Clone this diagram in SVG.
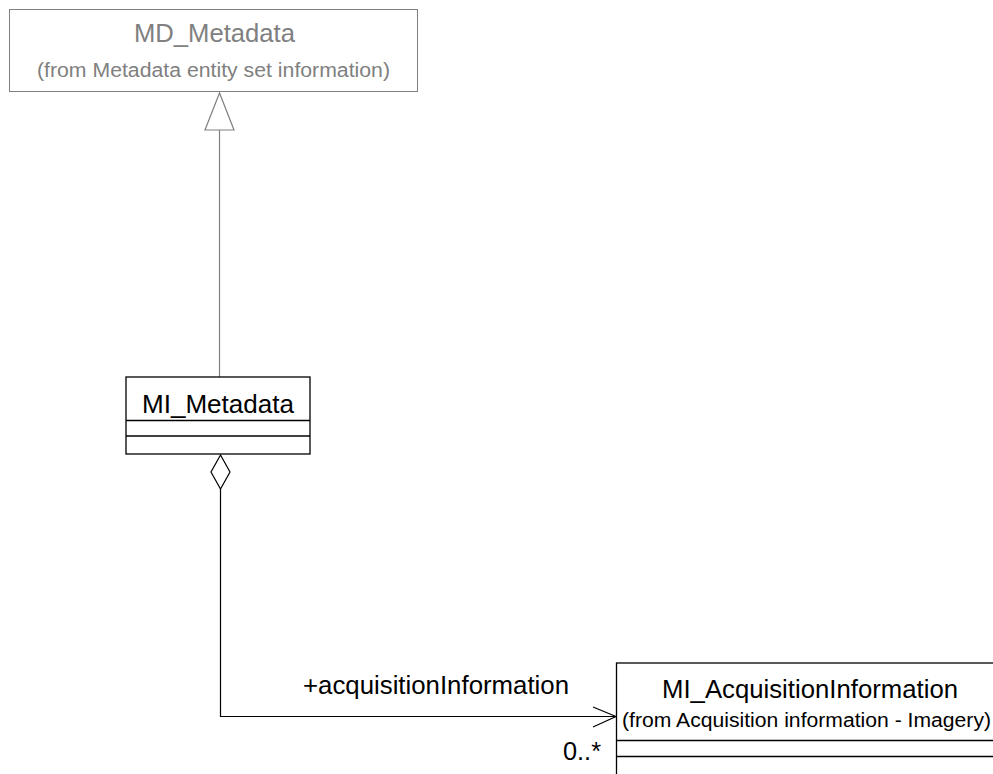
<svg xmlns="http://www.w3.org/2000/svg" width="993" height="774" viewBox="0 0 993 774">
  <style>
    .box { fill: #ffffff; stroke: #000000; stroke-width: 1.3; }
    .box-ext { fill: #ffffff; stroke: #808080; stroke-width: 1; }
    .sep { stroke: #000000; stroke-width: 1.3; }
    .title { font-family: "Liberation Sans", Arial, sans-serif; font-size: 26px; fill: #000000; text-anchor: middle; }
    .title-ext { font-family: "Liberation Sans", Arial, sans-serif; font-size: 25px; fill: #808080; text-anchor: middle; }
    .sub { font-family: "Liberation Sans", Arial, sans-serif; font-size: 19.5px; fill: #000000; }
    .sub-ext { font-family: "Liberation Sans", Arial, sans-serif; font-size: 19.5px; fill: #808080; }
    .label { font-family: "Liberation Sans", Arial, sans-serif; font-size: 26px; fill: #000000; }
    .link { fill: none; stroke: #000000; stroke-width: 1.2; }
    .link-ext { fill: none; stroke: #808080; stroke-width: 1.2; }
  </style>

  <rect width="993" height="774" fill="#ffffff"/>

  <!-- connectors -->
  <g id="connectors">
    <!-- generalization MI_Metadata -> MD_Metadata -->
    <line class="link-ext" x1="219.5" y1="130" x2="219.5" y2="377"/>
    <polygon class="link-ext" points="219.5,93 205,130 234,130"/>
    <!-- aggregation MI_Metadata -> MI_AcquisitionInformation -->
    <polygon class="link" points="220.5,455 211,472 220.5,489 230,472"/>
    <polyline class="link" points="220.5,489 220.5,716.5 616,716.5"/>
    <polyline class="link" points="593,707 616,716.5 593,727"/>
    <text class="label" x="303" y="694" textLength="266" lengthAdjust="spacingAndGlyphs">+acquisitionInformation</text>
    <text class="label" x="563" y="760" font-size="25" textLength="38" lengthAdjust="spacingAndGlyphs">0..*</text>
  </g>

  <!-- MD_Metadata (external class) -->
  <g id="MD_Metadata">
    <rect class="box-ext" x="9.5" y="9.5" width="408" height="82"/>
    <text class="title-ext" x="214.5" y="42" textLength="161" lengthAdjust="spacingAndGlyphs">MD_Metadata</text>
    <text class="sub-ext" x="37" y="77" textLength="353" lengthAdjust="spacingAndGlyphs">(from Metadata entity set information)</text>
  </g>

  <!-- MI_Metadata -->
  <g id="MI_Metadata">
    <rect class="box" x="126" y="377" width="184" height="77"/>
    <line class="sep" x1="126" y1="420.5" x2="310" y2="420.5"/>
    <line class="sep" x1="126" y1="436" x2="310" y2="436"/>
    <text class="title" x="218" y="413" textLength="152" lengthAdjust="spacingAndGlyphs">MI_Metadata</text>
  </g>

  <!-- MI_AcquisitionInformation -->
  <g id="MI_AcquisitionInformation">
    <rect class="box" x="616.5" y="663" width="400" height="130"/>
    <line class="sep" x1="616.5" y1="740.5" x2="993" y2="740.5"/>
    <line class="sep" x1="616.5" y1="756.5" x2="993" y2="756.5"/>
    <text class="title" x="810" y="698" textLength="296" lengthAdjust="spacingAndGlyphs">MI_AcquisitionInformation</text>
    <text class="sub" x="622" y="727" textLength="369" lengthAdjust="spacingAndGlyphs">(from Acquisition information - Imagery)</text>
  </g>
</svg>
